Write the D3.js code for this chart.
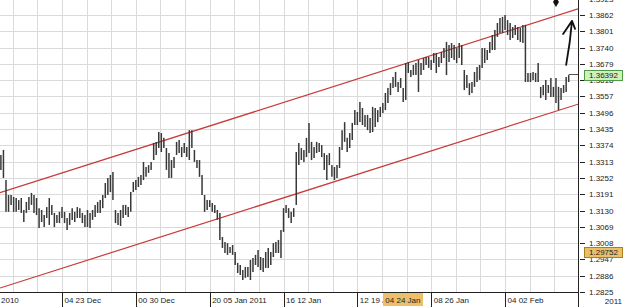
<!DOCTYPE html>
<meta charset="utf-8">
<title>4H chart with channel</title>
<style type="text/css">
  body { margin: 0; background: #fff; }
  svg { display: block; font-family: "Liberation Sans Narrow", "Liberation Sans", Arial, sans-serif; }
  .grid line { stroke: #dadada; stroke-width: 1; shape-rendering: crispEdges; }
  .axisText { font-size: 8px; fill: #222; }
</style>
<body>
<script src="https://cdn.jsdelivr.net/npm/d3@7/dist/d3.min.js"></script>
<script>

// bar highs / lows, 4 hour bars
var highs = [1.3338,1.3357,1.3244,1.3188,1.3188,1.3181,1.3177,1.3169,1.3177,1.3132,
  1.3162,1.3181,1.3196,1.3188,1.3177,1.3139,1.3132,1.3113,1.3143,1.3177,
  1.3151,1.3121,1.3113,1.3125,1.3143,1.3125,1.3102,1.3121,1.3139,1.3125,
  1.3143,1.3139,1.3121,1.3113,1.3132,1.3121,1.3132,1.3151,1.3162,1.3169,
  1.3188,1.3233,1.3252,1.3263,1.3274,1.3132,1.3121,1.3132,1.3151,1.3151,
  1.3143,1.3199,1.3237,1.3244,1.3256,1.3263,1.3312,1.3293,1.3300,1.3312,
  1.3383,1.3387,1.3424,1.3420,1.3402,1.3364,1.3345,1.3319,1.3330,1.3387,
  1.3394,1.3368,1.3383,1.3368,1.3431,1.3431,1.3357,1.3319,1.3319,1.3263,
  1.3188,1.3169,1.3169,1.3158,1.3151,1.3132,1.3121,1.3031,1.3012,1.3008,
  1.2993,1.3001,1.2975,1.2934,1.2926,1.2907,1.2919,1.2919,1.2945,1.2952,
  1.2964,1.2982,1.2956,1.2952,1.2975,1.2990,1.2975,1.3008,1.3012,1.3020,
  1.3057,1.3139,1.3151,1.3139,1.3125,1.3139,1.3349,1.3383,1.3364,1.3357,
  1.3402,1.3458,1.3387,1.3368,1.3387,1.3383,1.3375,1.3345,1.3338,1.3345,
  1.3300,1.3293,1.3300,1.3368,1.3431,1.3461,1.3402,1.3420,1.3458,1.3506,
  1.3499,1.3536,1.3514,1.3488,1.3488,1.3476,1.3518,1.3514,1.3506,1.3518,
  1.3533,1.3570,1.3589,1.3607,1.3630,1.3649,1.3611,1.3626,1.3589,1.3682,
  1.3686,1.3656,1.3675,1.3682,1.3694,1.3682,1.3701,1.3705,1.3705,1.3694,
  1.3720,1.3720,1.3705,1.3723,1.3738,1.3761,1.3750,1.3757,1.3750,1.3738,
  1.3757,1.3750,1.3656,1.3637,1.3607,1.3611,1.3649,1.3667,1.3675,1.3738,
  1.3738,1.3731,1.3761,1.3787,1.3806,1.3832,1.3851,1.3855,1.3862,1.3843,
  1.3832,1.3817,1.3825,1.3817,1.3813,1.3825,1.3825,1.3645,1.3645,1.3649,
  1.3645,1.3682,1.3593,1.3600,1.3619,1.3600,1.3626,1.3593,1.3626,1.3593,
  1.3589,1.3600,1.3630,1.3637];

var lows = [1.3282,1.3252,1.3125,1.3125,1.3151,1.3125,1.3125,1.3132,1.3121,1.3087,
  1.3121,1.3132,1.3151,1.3121,1.3113,1.3065,1.3087,1.3068,1.3102,1.3076,
  1.3113,1.3068,1.3083,1.3083,1.3102,1.3083,1.3057,1.3076,1.3095,1.3087,
  1.3102,1.3102,1.3083,1.3068,1.3068,1.3065,1.3095,1.3106,1.3121,1.3121,
  1.3139,1.3177,1.3188,1.3199,1.3169,1.3083,1.3076,1.3072,1.3102,1.3113,
  1.3106,1.3125,1.3199,1.3207,1.3218,1.3226,1.3244,1.3256,1.3271,1.3282,
  1.3319,1.3338,1.3364,1.3349,1.3364,1.3282,1.3252,1.3252,1.3289,1.3338,
  1.3345,1.3330,1.3345,1.3330,1.3319,1.3364,1.3312,1.3289,1.3256,1.3188,
  1.3125,1.3132,1.3143,1.3125,1.3121,1.3095,1.3020,1.2990,1.2971,1.2964,
  1.2971,1.2964,1.2926,1.2896,1.2889,1.2870,1.2878,1.2881,1.2870,1.2900,
  1.2926,1.2919,1.2907,1.2900,1.2915,1.2915,1.2926,1.2956,1.2971,1.2971,
  1.2952,1.3050,1.3121,1.3102,1.3083,1.3106,1.3151,1.3300,1.3319,1.3312,
  1.3330,1.3345,1.3319,1.3327,1.3345,1.3349,1.3330,1.3282,1.3244,1.3300,
  1.3256,1.3244,1.3252,1.3289,1.3357,1.3387,1.3349,1.3364,1.3394,1.3450,
  1.3450,1.3461,1.3450,1.3443,1.3431,1.3420,1.3424,1.3443,1.3461,1.3480,
  1.3495,1.3506,1.3533,1.3562,1.3589,1.3593,1.3574,1.3589,1.3536,1.3544,
  1.3645,1.3630,1.3637,1.3637,1.3574,1.3637,1.3656,1.3675,1.3664,1.3656,
  1.3682,1.3645,1.3667,1.3682,1.3701,1.3637,1.3686,1.3701,1.3694,1.3682,
  1.3701,1.3675,1.3581,1.3589,1.3562,1.3570,1.3593,1.3611,1.3619,1.3664,
  1.3682,1.3694,1.3720,1.3731,1.3731,1.3780,1.3795,1.3795,1.3806,1.3787,
  1.3768,1.3776,1.3787,1.3768,1.3761,1.3757,1.3611,1.3611,1.3611,1.3619,
  1.3611,1.3611,1.3551,1.3562,1.3544,1.3570,1.3555,1.3555,1.3533,1.3506,
  1.3544,1.3570,1.3574,1.3611];

var lastClose = 1.36392;
var markPrice = 1.29752;

// right axis ticks
var priceTicks = [1.3923,1.3862,1.3801,1.3740,1.3679,1.3618,1.3557,1.3496,1.3435,1.3374,
  1.3313,1.3252,1.3191,1.3130,1.3069,1.3008,1.2947,1.2886,1.2825];

// bottom axis, bar index of each week separator
var dateTickIdx = [24, 53, 82, 111, 140, 169, 198];
var dateTickLabels = ["04 23 Dec", "00 30 Dec", "20 05 Jan 2011", "16 12 Jan", "12 19 Jan", "08 26 Jan", "04 02 Feb"];
var cursorIdx = 150;
var cursorLabel = "04 24 Jan";

// channel lines, [bar index, price]
var channelIdx = [0, 226];
var channelUpper = [1.3198, 1.3883];
var channelLower = [1.2841, 1.3526];

//Width and height
var W = 625, H = 307;
var plotW = 578, plotH = 292;

var x = d3.scaleLinear().domain([0, 223]).range([0.9, 568.7]);
var y = d3.scaleLinear().domain([1.2825, 1.3862]).range([292, 15]);

var svg = d3.select("body").append("svg")
  .attr("width", W)
  .attr("height", H);

svg.append("defs").append("clipPath").attr("id", "plotClip")
  .append("rect").attr("x", 0).attr("y", 0).attr("width", plotW).attr("height", plotH);

// grid
var grid = svg.append("g").attr("class", "grid");
grid.selectAll(".h").data(priceTicks).enter().append("line")
  .attr("x1", 0).attr("x2", plotW)
  .attr("y1", function(d) { return Math.round(y(d)) + 0.5; })
  .attr("y2", function(d) { return Math.round(y(d)) + 0.5; });

var vIdx = [];
for (var k = -2; k <= 20; k++) vIdx.push(24 + k * 29 / 3);
grid.selectAll(".v").data(vIdx).enter().append("line")
  .attr("y1", 0).attr("y2", plotH)
  .attr("x1", function(d) { return Math.round(x(d)) + 0.5; })
  .attr("x2", function(d) { return Math.round(x(d)) + 0.5; });

var plot = svg.append("g").attr("clip-path", "url(#plotClip)");

// channel
function chanAt(p, idx) {
  return p[0] + (p[1] - p[0]) * (idx - channelIdx[0]) / (channelIdx[1] - channelIdx[0]);
}
var edge = [x.invert(0), x.invert(plotW)];
[channelUpper, channelLower].forEach(function(p) {
  plot.append("line")
    .attr("x1", x(edge[0])).attr("y1", y(chanAt(p, edge[0])))
    .attr("x2", x(edge[1])).attr("y2", y(chanAt(p, edge[1])))
    .attr("stroke", "#c83a3a")
    .attr("stroke-width", 1.2);
});

// bars
plot.selectAll(".bar").data(highs).enter().append("line")
  .attr("x1", function(d, i) { return x(i); })
  .attr("x2", function(d, i) { return x(i); })
  .attr("y1", function(d) { return y(d); })
  .attr("y2", function(d, i) { return y(lows[i]); })
  .attr("stroke", "#383838")
  .attr("stroke-width", 1.5);

// last price line
plot.append("line")
  .attr("x1", x(highs.length - 1)).attr("x2", plotW)
  .attr("y1", y(lastClose)).attr("y2", y(lastClose))
  .attr("stroke", "#555").attr("stroke-width", 1);

// hand drawn arrow
var arrow = [[222, 1.3675], [224.3, 1.3840]];
plot.append("path")
  .attr("d", "M" + x(arrow[0][0]) + "," + y(arrow[0][1]) +
    " Q" + x(223.6) + "," + y(1.3760) + " " + x(arrow[1][0]) + "," + y(arrow[1][1]) +
    " M" + x(220.8) + "," + y(1.3791) + " L" + x(arrow[1][0]) + "," + y(arrow[1][1]) +
    " L" + x(225.5) + "," + y(1.3810))
  .attr("fill", "none").attr("stroke", "#111").attr("stroke-width", 1.8)
  .attr("stroke-linejoin", "round").attr("stroke-linecap", "round");

plot.append("path")
  .attr("d", d3.symbol().type(d3.symbolDiamond).size(30))
  .attr("transform", "translate(" + x(218) + "," + y(1.3911) + ")")
  .attr("fill", "#111");

// right axis
svg.append("rect").attr("x", plotW).attr("y", 0).attr("width", W - plotW).attr("height", H).attr("fill", "#fff");
svg.append("line").attr("x1", plotW + 0.5).attr("x2", plotW + 0.5).attr("y1", 0).attr("y2", H)
  .attr("stroke", "#222").attr("stroke-width", 1);
svg.selectAll(".ytick").data(priceTicks).enter().append("line")
  .attr("x1", plotW + 2).attr("x2", plotW + 7)
  .attr("y1", function(d) { return Math.round(y(d)) + 0.5; })
  .attr("y2", function(d) { return Math.round(y(d)) + 0.5; })
  .attr("stroke", "#222");
svg.selectAll(".ylab").data(priceTicks).enter().append("text")
  .attr("class", "axisText")
  .attr("x", plotW + 11)
  .attr("y", function(d) { return y(d) + 3; })
  .text(function(d) { return d.toFixed(4); });

// price boxes
function priceBox(v, fill, stroke) {
  svg.append("rect")
    .attr("x", plotW + 6.5).attr("y", Math.round(y(v)) - 4.5)
    .attr("width", 38).attr("height", 10)
    .attr("fill", fill).attr("stroke", stroke);
  svg.append("text").attr("class", "axisText")
    .attr("x", plotW + 25.5).attr("y", y(v) + 3.5)
    .style("text-anchor", "middle")
    .text(v.toFixed(5));
}
priceBox(lastClose, "#cdf0bd", "#4f9a45");
priceBox(markPrice, "#e9c068", "#a8801e");

// bottom axis
svg.append("rect").attr("x", 0).attr("y", plotH).attr("width", plotW).attr("height", H - plotH).attr("fill", "#fff");
svg.append("line").attr("x1", 0).attr("x2", plotW).attr("y1", plotH + 0.5).attr("y2", plotH + 0.5)
  .attr("stroke", "#222");
svg.selectAll(".xsep").data(dateTickIdx).enter().append("line")
  .attr("x1", function(d) { return Math.round(x(d)) + 0.5; })
  .attr("x2", function(d) { return Math.round(x(d)) + 0.5; })
  .attr("y1", plotH).attr("y2", H)
  .attr("stroke", "#222");
svg.selectAll(".xlab").data(dateTickIdx).enter().append("text")
  .attr("class", "axisText")
  .attr("x", function(d) { return x(d) + 2.5; })
  .attr("y", 303)
  .text(function(d, i) { return dateTickLabels[i]; });
svg.append("text").attr("class", "axisText").attr("x", 1).attr("y", 303).text("2010");
svg.append("text").attr("class", "axisText").attr("x", 622).attr("y", 304)
  .style("text-anchor", "end").text("2011");

// cursor date box
svg.append("rect")
  .attr("x", Math.round(x(cursorIdx))).attr("y", plotH + 1)
  .attr("width", 40).attr("height", 13)
  .attr("fill", "#eebf6a");
svg.append("text").attr("class", "axisText")
  .attr("x", x(cursorIdx) + 2.5).attr("y", 303)
  .text(cursorLabel);

</script>
</body>
